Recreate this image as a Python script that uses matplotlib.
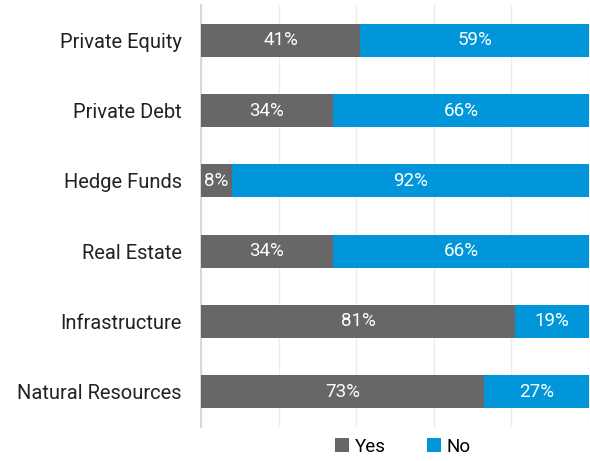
import matplotlib.pyplot as plt
import numpy as np

# data
categories = ["Private Equity", "Private Debt", "Hedge Funds", "Real Estate",
              "Infrastructure", "Natural Resources"]
yes_vals = [41, 34, 8, 34, 81, 73]
no_vals = [59, 66, 92, 66, 19, 27]

gray = "#696667"
blue = "#0096d9"

plt.rcParams['font.family'] = ['Roboto', 'DejaVu Sans']

fig = plt.figure(figsize=(5.9, 4.61), dpi=100)
ax = fig.add_axes([0.3407, 0.074, 0.6575, 0.915])

y = np.arange(len(categories))
ax.barh(y, yes_vals, height=0.47, color=gray, label="Yes", zorder=3)
ax.barh(y, no_vals, left=yes_vals, height=0.47, color=blue, label="No", zorder=3)

for i in range(len(categories)):
    ax.text(yes_vals[i] / 2, y[i], f"{yes_vals[i]}%", ha="center", va="center",
            color="white", fontsize=13.5, zorder=4)
    ax.text(yes_vals[i] + no_vals[i] / 2, y[i], f"{no_vals[i]}%", ha="center",
            va="center", color="white", fontsize=13.5, zorder=4)

ax.set_xlim(0, 100)
ax.set_ylim(5.5, -0.5)
ax.set_yticks(y)
ax.set_yticklabels(categories, fontsize=14.5, color="#222222")
ax.set_xticks([0, 20, 40, 60, 80, 100])
ax.set_xticklabels([])
ax.tick_params(axis="both", length=0, pad=14)
ax.grid(axis="x", color="#ececec", linewidth=1, zorder=0)
for s in ["top", "right", "bottom"]:
    ax.spines[s].set_visible(False)
ax.spines["left"].set_color("#d9d9d9")
ax.spines["left"].set_linewidth(1.5)

ax.legend(loc="upper center", bbox_to_anchor=(0.52, 0.005), ncol=2, frameon=False,
          fontsize=13.5, handlelength=0.75, handleheight=0.75, handletextpad=0.3,
          columnspacing=2.2, borderpad=0.2)

fig.savefig("out.png", dpi=100)
